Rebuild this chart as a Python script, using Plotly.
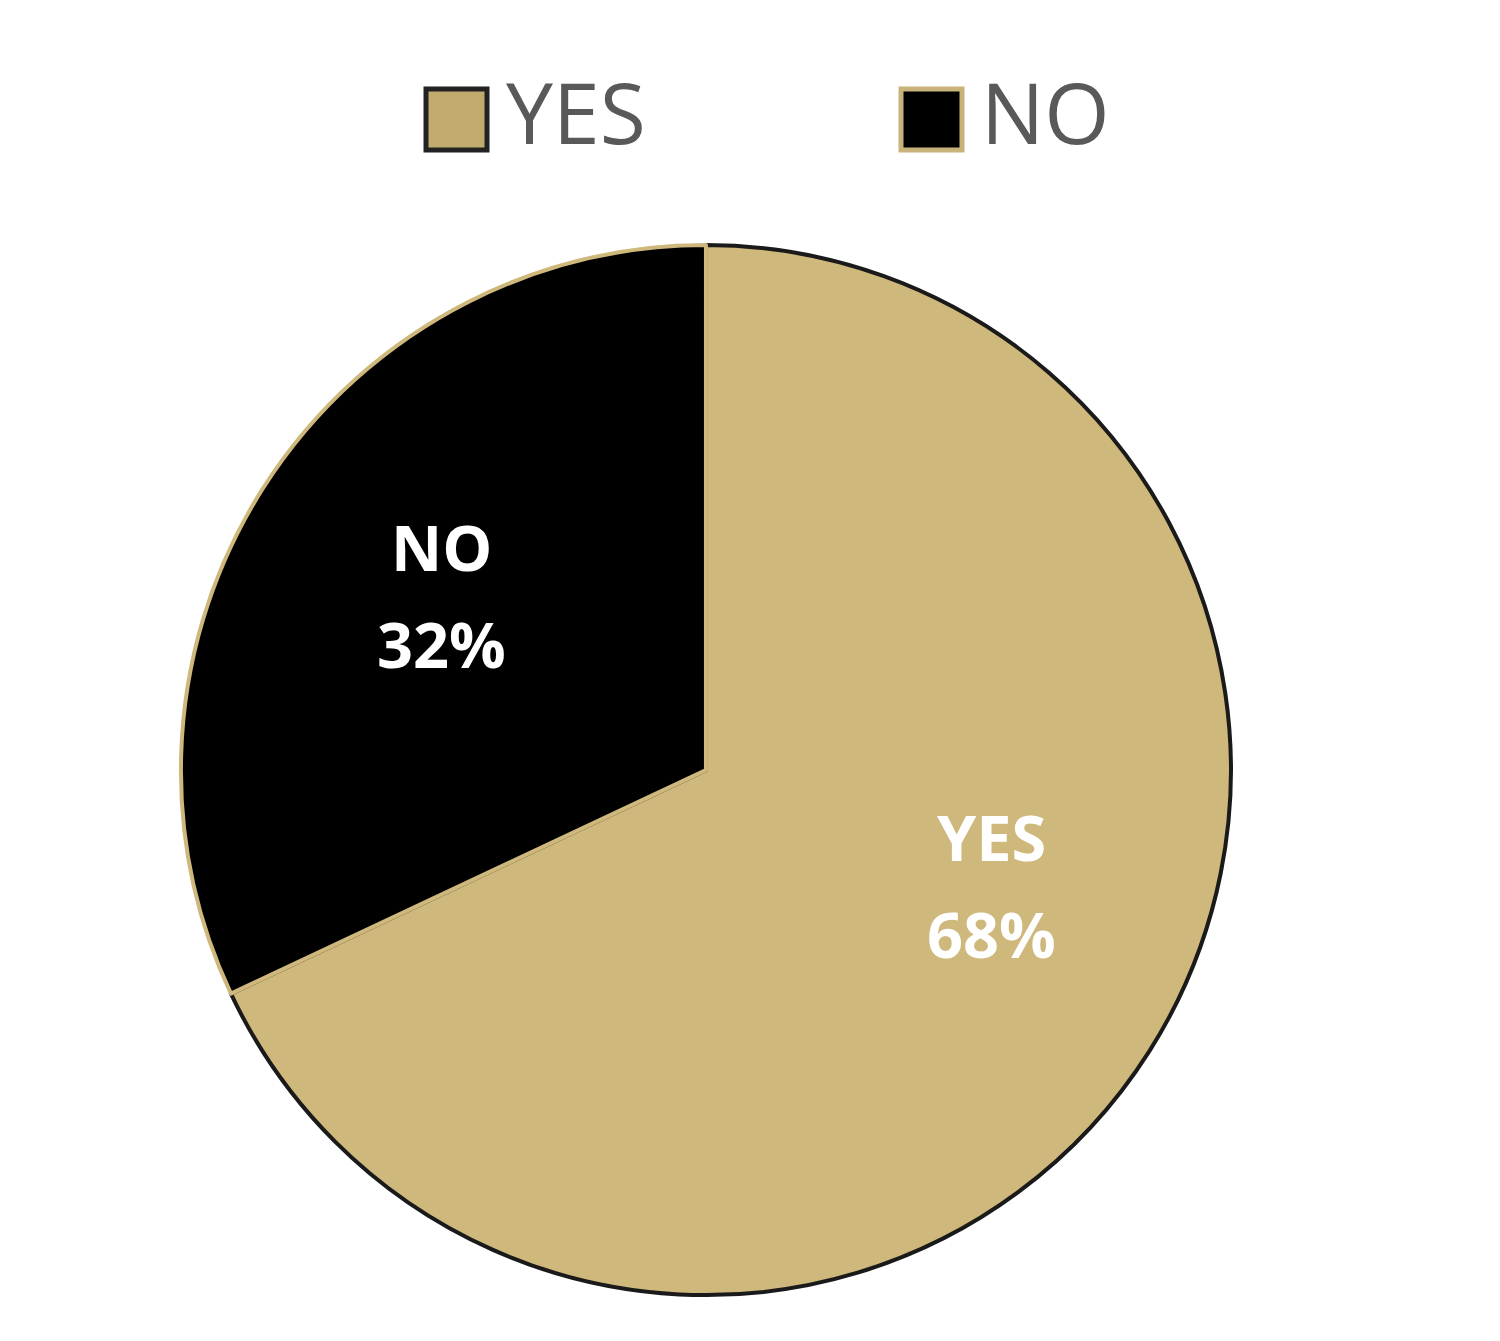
import plotly.graph_objects as go

labels = ["YES", "NO"]
values = [68, 32]
colors = ["#CFB87C", "#000000"]
edge_colors = ["#1a1a1a", "#CFB87C"]
legend_fill = ["#C2AB6E", "#000000"]
legend_edge = ["#222222", "#C8B47A"]

W, H = 1500, 1341
total = sum(values)

fig = go.Figure(go.Pie(
    labels=labels,
    values=values,
    sort=False,
    direction="clockwise",
    rotation=0,
    marker=dict(colors=colors, line=dict(color=edge_colors, width=4)),
    textinfo="none",
    hoverinfo="label+percent",
    domain=dict(x=[0.1153, 0.8153], y=[0.0392, 0.8242]),
    showlegend=False,
))

def px(x):
    return x / W

def py(y):
    return 1 - y / H

annotations = []
shapes = []

# slice labels (label / percent), positioned as in reference
label_pos = {"YES": (983, 828, 925), "NO": (433, 538, 635)}
for lab, val in zip(labels, values):
    cx, y1, y2 = label_pos[lab]
    pct = round(100 * val / total)
    annotations.append(dict(x=px(cx), y=py(y1), xref="paper", yref="paper",
                            text=f"<b>{lab}</b>", showarrow=False,
                            font=dict(family="Open Sans", size=63, color="white"),
                            xanchor="center", yanchor="middle"))
    annotations.append(dict(x=px(cx), y=py(y2), xref="paper", yref="paper",
                            text=f"<b>{pct}%</b>", showarrow=False,
                            font=dict(family="Open Sans", size=63, color="white"),
                            xanchor="center", yanchor="middle"))

# custom legend
legend_x = [416, 891]
for lab, lx, fc, ec in zip(labels, legend_x, legend_fill, legend_edge):
    shapes.append(dict(type="rect", xref="paper", yref="paper",
                       x0=px(lx + 2), x1=px(lx + 63), y0=py(142), y1=py(81),
                       fillcolor=fc, line=dict(color=ec, width=5)))
    annotations.append(dict(x=px(lx + 80), y=py(103), xref="paper", yref="paper",
                            text=lab, showarrow=False,
                            font=dict(family="Open Sans", size=84, color="#595959"),
                            xanchor="left", yanchor="middle"))

fig.update_layout(
    width=W, height=H,
    margin=dict(l=0, r=0, t=0, b=0),
    paper_bgcolor="white",
    plot_bgcolor="white",
    annotations=annotations,
    shapes=shapes,
)

fig.write_html("out.html")
